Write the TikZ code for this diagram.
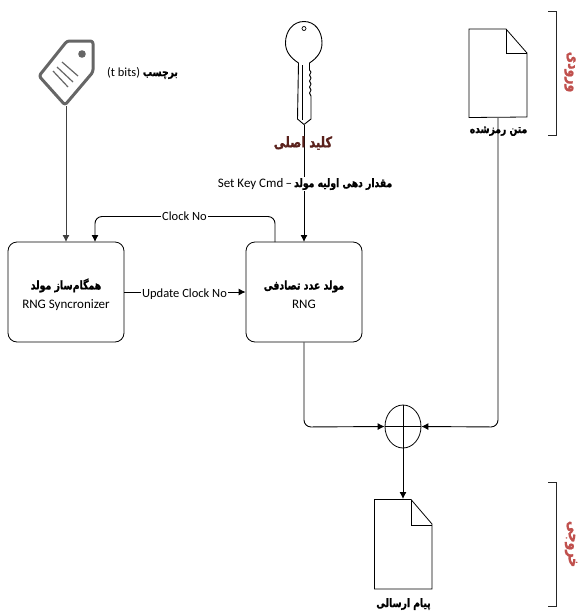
\documentclass[tikz,border=0pt]{standalone}
\usepackage{fontspec}
\setmainfont{Carlito}
\newfontfamily\fab[Script=Arabic,FakeStretch=0.78,FakeBold=1.2]{DejaVu Sans Bold}
\TeXXeTstate=1
\usetikzlibrary{arrows.meta,shapes.geometric}
\definecolor{keyred}{HTML}{5A211C}
\definecolor{sidered}{HTML}{C0504D}
\definecolor{taggray}{HTML}{666666}
\newcommand{\rl}[1]{{\fab\beginR #1\endR}}
\newcommand{\fs}[1]{\fontsize{#1}{#1}\selectfont}
\tikzset{
 line/.style={draw=black,line width=0.9pt},
 arrowline/.style={line,-{Latex[length=7pt,width=7pt]},rounded corners=7pt},
 blockbox/.style={draw=black,line width=0.8pt,rounded corners=9pt,minimum width=116pt,minimum height=100pt,inner sep=0pt},
 blocktext/.style={inner sep=0pt,align=center,font=\fontsize{13}{19}\selectfont},
 lbl/.style={inner sep=1pt,fill=white,font=\fontsize{12.5}{14}\selectfont},
 doclbl/.style={inner sep=0pt,font=\fontsize{11.8}{14}\selectfont},
 docshape/.style={draw=black,line width=0.8pt,fill=white,line join=miter},
 sidelbl/.style={rotate=-90,text=sidered,inner sep=0pt,font=\fontsize{16}{18}\selectfont},
}
\begin{document}
\begin{tikzpicture}[x=1pt,y=-1pt]
\useasboundingbox (0,0) rectangle (584,614);
% blocks
\node[blockbox] (sync) at (66,292) {};
\node[blockbox] (rng) at (304,292) {};
\node[blocktext] (synct) at (66,294.5) {\rl{\fs{12}همگام‌ساز مولد}\\RNG Syncronizer};
\node[blocktext] (rngt) at (304,294.5) {\rl{\fs{12}مولد عدد تصادفی}\\RNG};
\coordinate (syncA) at (66,242);
\coordinate (syncB) at (95,242);
\coordinate (rngA) at (304,242);
\coordinate (rngB) at (275,242);
% tag
\draw[draw=taggray,line width=3pt,line join=round,rounded corners=2.5pt,fill=white]
  (67,41) -- (93,41) -- (93,72) -- (65,105) -- (39,76) -- cycle;
\coordinate (tagEnd) at (66,106);
\fill[taggray] (82,54) circle (3.8pt);
\draw[taggray,line width=1.2pt] (62,62) -- (78,76) (57,67) -- (73,82) (53,71) -- (68,87);
\node[inner sep=0pt,font=\fontsize{12.4}{14}\selectfont] (taglbl) at (142.5,73) {(t bits) \rl{\fs{11.8}برچسب}};
\draw[arrowline,draw=black!75] (tagEnd) -- (syncA);
% key
\draw[line,fill=white,line join=round]
  (298.5,63) .. controls (291,58) and (285.5,52) .. (285.5,43)
  .. controls (285.5,31) and (293,21.5) .. (304,21.5)
  .. controls (315,21.5) and (322,31) .. (322,43)
  .. controls (322,52) and (317,58) .. (309.5,63)
  -- (309.5,70) -- (311,72) -- (309.5,75) -- (311,78) -- (309.5,81) -- (311,84) -- (309.5,87) -- (311,90) -- (309.5,93) -- (311,96) -- (311,119)
  -- (304,124.5) -- (297.5,119) -- cycle;
\draw[line width=0.7pt] (302,65) -- (302,120);
\draw[line width=0.7pt] (304,28.5) circle (2pt);
\coordinate (keyEnd) at (304,125);
% cipher doc
\draw[docshape] (469,29) -- (506,29) -- (527,53) -- (527,117) -- (469,117.5) -- cycle;
\draw[line width=0.9pt] (506,29) -- (506,53.5) -- (527,53.5);
\coordinate (docOut) at (498,118);
\coordinate (docIn) at (403,499);
% xor
\node[draw=black,line width=0.8pt,ellipse,minimum width=36pt,minimum height=43pt,inner sep=0pt] (xor) at (403,426.5) {};
\draw[line width=0.7pt] (xor.north) -- (xor.south) (xor.west) -- (xor.east);
% connectors
\draw[arrowline] (keyEnd) -- (rngA);
\node[inner sep=1pt,font=\fontsize{14.8}{18}\selectfont,text=keyred] (keylbl) at (303,143) {\rl{کلید اصلی}};
\node[inner sep=1pt,fill=white,font=\fontsize{13}{15}\selectfont] (setlbl) at (305,184) {Set Key Cmd\,--\,\rl{\fs{11.8}مقدار دهی اولیه مولد}};
\draw[arrowline] (rngB) -- (275,216.5) -- (95,216.5) -- (syncB);
\node[lbl] (clk) at (184.5,216.5) {Clock No};
\draw[arrowline,rounded corners=0pt] (sync.east) -- (rng.west);
\node[lbl] (upd) at (184.5,294) {Update Clock No};
\draw[arrowline] (rng.south) -- (304,427) -- (xor.west);
\draw[arrowline] (docOut) -- (498,427) -- (xor.east);
\draw[arrowline] (xor.south) -- (docIn);
\node[doclbl] (cipher) at (498.5,131) {\rl{متن رمزشده}};
% output doc
\draw[docshape] (374.5,499.5) -- (411,499.5) -- (432,524) -- (432,589) -- (374.5,589) -- cycle;
\draw[line width=0.9pt] (411,499.5) -- (411,525) -- (432,525);
\node[doclbl] (plain) at (403.5,604) {\rl{پیام ارسالی}};
% brackets
\draw[line,draw=black!85] (548,11) -- (556,11) -- (556,135) -- (548,135);
\draw[line,draw=black!85] (548,482) -- (556,482) -- (556,606) -- (548,606);
\node[sidelbl] (inlbl) at (570,72) {\rl{ورودی}};
\node[sidelbl] (outlbl) at (571,544) {\rl{خروجی}};
\end{tikzpicture}
\end{document}
